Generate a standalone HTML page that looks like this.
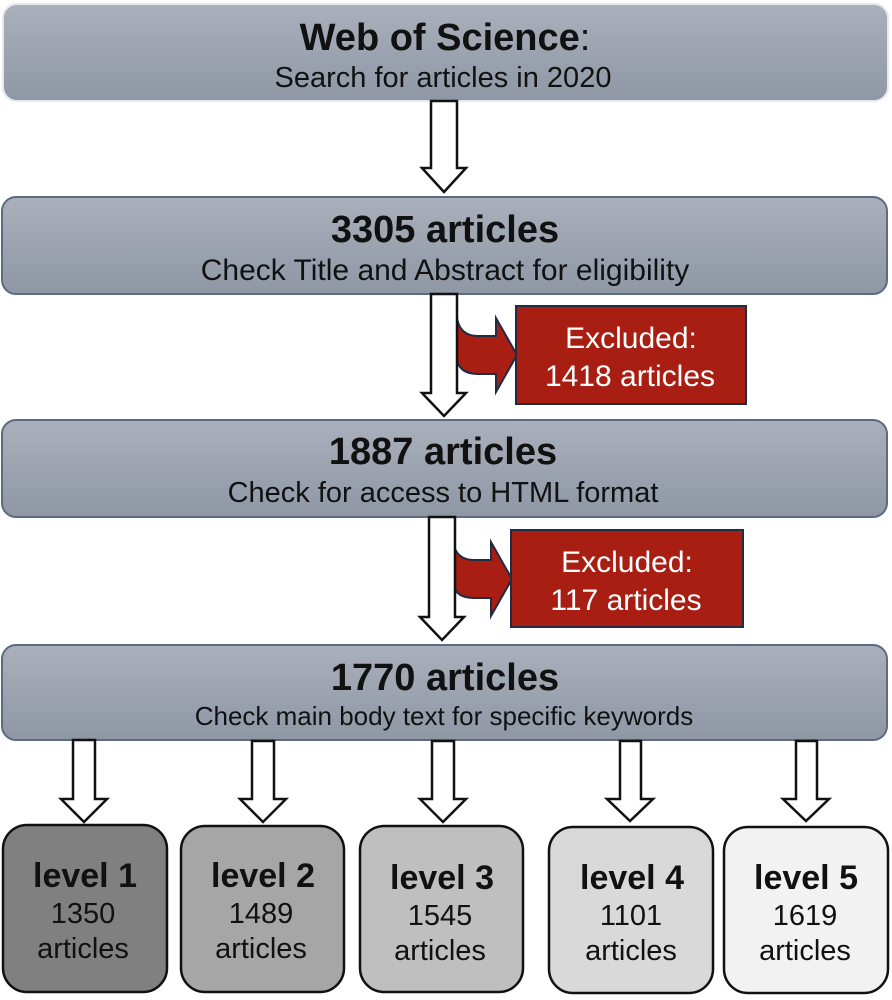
<!DOCTYPE html>
<html><head><meta charset="utf-8"><style>
html,body{margin:0;padding:0;background:#fff;width:892px;height:1000px;overflow:hidden}
svg{display:block}
text{font-family:"Liberation Sans",Arial,sans-serif}
</style></head><body>
<svg width="892" height="1000" viewBox="0 0 892 1000" xmlns="http://www.w3.org/2000/svg">
<defs>
<linearGradient id="g" x1="0" y1="0" x2="0" y2="1">
<stop offset="0" stop-color="#aab0bb"/><stop offset="1" stop-color="#8f97a5"/>
</linearGradient>
</defs>
<rect x="3" y="4" width="885" height="97" rx="14" fill="url(#g)" stroke="#e6e8ec" stroke-width="2"/>
<rect x="2" y="197" width="885" height="97" rx="14" fill="url(#g)" stroke="#5c6b82" stroke-width="2"/>
<rect x="2" y="420" width="885" height="97" rx="14" fill="url(#g)" stroke="#5c6b82" stroke-width="2"/>
<rect x="2" y="645" width="885" height="95" rx="14" fill="url(#g)" stroke="#5c6b82" stroke-width="2"/>

<g text-anchor="middle" fill="#111">
<text x="445" y="50" font-size="38" font-weight="bold">Web of Science<tspan font-weight="normal">:</tspan></text>
<text x="443" y="87" font-size="29">Search for articles in 2020</text>
<text x="445" y="242" font-size="38" font-weight="bold">3305 articles</text>
<text x="445" y="280" font-size="30">Check Title and Abstract for eligibility</text>
<text x="443" y="464" font-size="38" font-weight="bold">1887 articles</text>
<text x="443" y="502" font-size="29">Check for access to HTML format</text>
<text x="445" y="690" font-size="38" font-weight="bold">1770 articles</text>
<text x="444" y="725" font-size="26">Check main body text for specific keywords</text>
</g>

<g fill="#fff" stroke="#111" stroke-width="2.5">
<path d="M431 101 H457 V168 H466 L444 192 L422 168 H431 Z"/>
</g>
<g fill="#a81e13" stroke="#1f2c44" stroke-width="2">
<path d="M457 318 Q460 336 478 336 H496 V318 L517 355 L496 392 V374 H478 Q460 374 457 360 Z"/>
<path d="M453 542 Q456 560 474 560 H491 V542 L512 579 L491 616 V598 H474 Q456 598 453 584 Z"/>
</g>
<g fill="#fff" stroke="#111" stroke-width="2.5">
<path d="M431 294 H457 V393 H466 L444 416 L422 393 H431 Z"/>
<path d="M429 517 H455 V617 H464 L442 640 L420 617 H429 Z"/>
</g>
<rect x="516" y="306" width="230" height="98" fill="#a81e13" stroke="#1f2c44" stroke-width="2"/>
<rect x="511" y="530" width="232" height="97" fill="#a81e13" stroke="#1f2c44" stroke-width="2"/>
<g text-anchor="middle" fill="#fff" font-size="30">
<text x="631" y="348">Excluded:</text>
<text x="630" y="386">1418 articles</text>
<text x="627" y="572">Excluded:</text>
<text x="626" y="610">117 articles</text>
</g>

<g fill="#fff" stroke="#111" stroke-width="2.5">
<path d="M73 740 H95 V799 H107 L84 822 L61 799 H73 Z"/>
<path d="M252 741 H274 V799 H286 L263 822 L240 799 H252 Z"/>
<path d="M432 741 H454 V799 H466 L443 822 L420 799 H432 Z"/>
<path d="M620 741 H641 V799 H653 L630 821 L607 799 H620 Z"/>
<path d="M796 741 H817 V799 H829 L806 821 L783 799 H796 Z"/>
</g>

<g stroke="#111" stroke-width="2.5">
<rect x="3" y="825" width="164" height="167" rx="24" fill="#808080"/>
<rect x="181" y="826" width="163" height="166" rx="24" fill="#a6a6a6"/>
<rect x="360" y="826" width="163" height="166" rx="24" fill="#bfbfbf"/>
<rect x="549" y="827" width="164" height="166" rx="24" fill="#d9d9d9"/>
<rect x="724" y="827" width="164" height="166" rx="24" fill="#f2f2f2"/>
</g>
<g text-anchor="middle" fill="#111">
<g font-size="34" font-weight="bold">
<text x="85" y="887">level 1</text>
<text x="263" y="887">level 2</text>
<text x="442" y="889">level 3</text>
<text x="632" y="889">level 4</text>
<text x="806" y="889">level 5</text>
</g>
<g font-size="29">
<text x="83" y="923">1350</text><text x="83" y="958">articles</text>
<text x="261" y="923">1489</text><text x="261" y="958">articles</text>
<text x="440" y="925">1545</text><text x="440" y="960">articles</text>
<text x="631" y="925">1101</text><text x="631" y="960">articles</text>
<text x="805" y="925">1619</text><text x="805" y="960">articles</text>
</g>
</g>
</svg>
</body></html>
